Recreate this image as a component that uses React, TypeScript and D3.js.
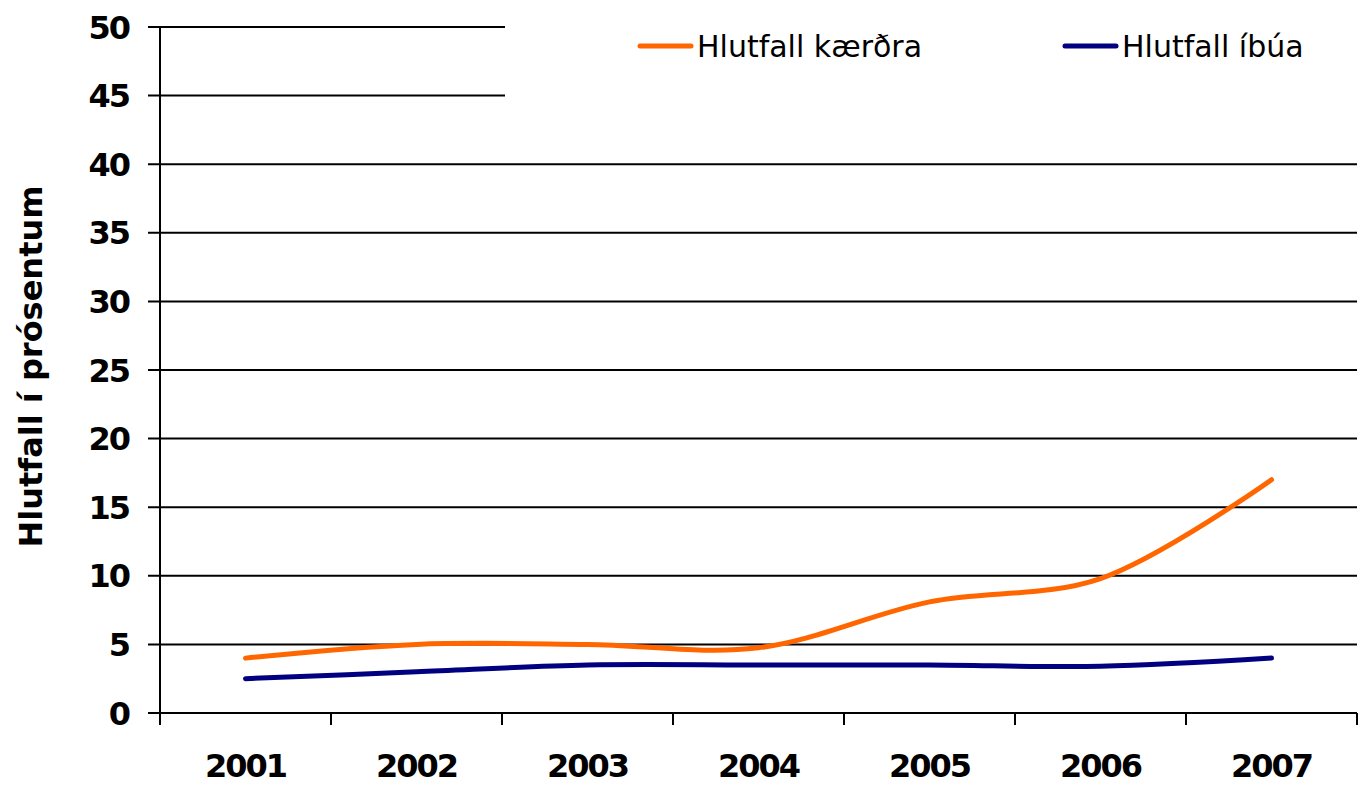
import React, { useEffect } from "react";
import * as d3 from "d3";

const years = ["2001", "2002", "2003", "2004", "2005", "2006", "2007"];
const kaerdra = [4.0, 5.0, 5.0, 4.75, 8.1, 9.8, 17.0];
const ibua = [2.5, 3.0, 3.5, 3.5, 3.5, 3.4, 4.0];
const yTicks = [0, 5, 10, 15, 20, 25, 30, 35, 40, 45, 50];
const seriesNames = ["Hlutfall kærðra", "Hlutfall íbúa"];
const yTitle = "Hlutfall í prósentum";

const W = 1366, H = 787;
const left = 160, right = 1357, top = 27, bottom = 713;
const ORANGE = "#FF6600", BLUE = "#000080";
const FONT = "'DejaVu Sans', Verdana, sans-serif";

export default function App() {
  useEffect(() => {
    document.body.style.margin = "0";
  }, []);
  const x = d3.scaleBand<string>().domain(years).range([left, right]);
  const y = d3.scaleLinear().domain([0, 50]).range([bottom, top]);
  const line = d3
    .line<number>()
    .x((_, i) => (x(years[i]) as number) + x.bandwidth() / 2)
    .y((d) => y(d))
    .curve(d3.curveCatmullRom.alpha(0.5));
  const tickXs = years.map((yr) => x(yr) as number).concat([right]);
  return (
    <svg width={W} height={H} style={{ display: "block", background: "#fff" }}>
      {yTicks.map((t) => (
        <g key={t}>
          <line x1={left - 12} x2={right} y1={y(t)} y2={y(t)} stroke="#000" strokeWidth={2} />
          <text
            x={129}
            y={y(t)}
            dy="0.36em"
            textAnchor="end"
            fontFamily={FONT}
            fontWeight="bold"
            fontSize={32}
            letterSpacing={-2}
          >
            {t}
          </text>
        </g>
      ))}
      {/* legend box covering the top gridlines */}
      <rect x={505} y={0} width={W - 505} height={120} fill="#fff" />
      <line x1={left} x2={left} y1={top} y2={bottom} stroke="#000" strokeWidth={2} />
      {tickXs.map((tx, i) => (
        <line key={i} x1={tx} x2={tx} y1={bottom} y2={bottom + 12} stroke="#000" strokeWidth={2} />
      ))}
      {years.map((yr) => (
        <text
          key={yr}
          x={(x(yr) as number) + x.bandwidth() / 2}
          y={777}
          textAnchor="middle"
          fontFamily={FONT}
          fontWeight="bold"
          fontSize={32}
          letterSpacing={-2}
        >
          {yr}
        </text>
      ))}
      <text
        transform={`translate(42,${(183 + 550) / 2}) rotate(-90)`}
        textAnchor="middle"
        fontFamily={FONT}
        fontWeight="bold"
        fontSize={32}
      >
        {yTitle}
      </text>
      <path d={line(ibua) || ""} fill="none" stroke={BLUE} strokeWidth={5} strokeLinecap="round" />
      <path d={line(kaerdra) || ""} fill="none" stroke={ORANGE} strokeWidth={5} strokeLinecap="round" />
      {/* legend */}
      <line x1={640} x2={691} y1={46} y2={46} stroke={ORANGE} strokeWidth={5} strokeLinecap="round" />
      <text x={697} y={57} fontFamily={FONT} fontSize={30}>
        {seriesNames[0]}
      </text>
      <line x1={1065} x2={1116} y1={46} y2={46} stroke={BLUE} strokeWidth={5} strokeLinecap="round" />
      <text x={1122} y={57} fontFamily={FONT} fontSize={30}>
        {seriesNames[1]}
      </text>
    </svg>
  );
}
